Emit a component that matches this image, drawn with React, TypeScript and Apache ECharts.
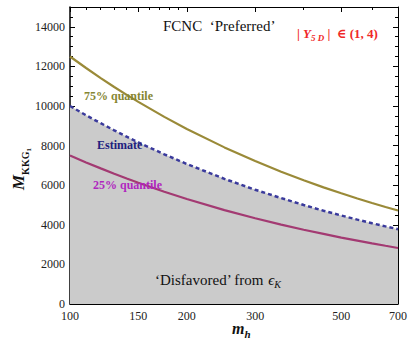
import React, { useEffect, useRef } from "react";
import * as echarts from "echarts";

const mh = [100, 110, 120, 130, 140, 150, 175, 200, 250, 300, 350, 400, 450, 500, 550, 600, 650, 700];
const q75 = [12500, 11920, 11410, 10960, 10560, 10210, 9450, 8840, 7910, 7220, 6680, 6250, 5890, 5590, 5330, 5100, 4900, 4720];
const estimate = [10000, 9530, 9130, 8770, 8450, 8160, 7560, 7070, 6320, 5770, 5350, 5000, 4710, 4470, 4260, 4080, 3920, 3780];
const q25 = [7500, 7150, 6850, 6580, 6340, 6120, 5670, 5300, 4740, 4330, 4010, 3750, 3540, 3350, 3200, 3060, 2940, 2830];

const xMajor = [100, 150, 200, 300, 500, 700];
const xMinor = [110, 120, 130, 140, 160, 170, 180, 190, 400, 600];
const yMajor = [0, 2000, 4000, 6000, 8000, 10000, 12000, 14000];
const yMinor = [500, 1000, 1500, 2500, 3000, 3500, 4500, 5000, 5500, 6500, 7000, 7500, 8500, 9000, 9500, 10500, 11000, 11500, 12500, 13000, 13500, 14500];

const SERIF = "'Liberation Serif', 'DejaVu Serif', serif";
const lg = (v: number) => Math.log10(v);
const X0 = lg(100);
const X1 = lg(700);

export default function App() {
  const ref = useRef<HTMLDivElement>(null);
  useEffect(() => {
    document.body.style.margin = "0";
    const chart = echarts.init(ref.current!, null, { renderer: "svg" });
    const pts = (ys: number[]) => mh.map((m, i) => [lg(m), ys[i]]);
    const xBase = (pos: string, ticks: number[], len: number, labels: boolean, line: boolean) => ({
      type: "value",
      min: X0,
      max: X1,
      position: pos,
      axisLine: { show: line, onZero: false, lineStyle: { color: "#000", width: 1 } },
      axisTick: { show: true, inside: true, length: len, customValues: ticks.map(lg), lineStyle: { color: "#000" } },
      axisLabel: labels
        ? {
            show: true,
            customValues: ticks.map(lg),
            formatter: (v: number) => String(Math.round(Math.pow(10, v))),
            fontFamily: SERIF,
            fontSize: 12,
            color: "#222",
            margin: 6,
          }
        : { show: false },
      splitLine: { show: false },
    });
    const yBase = (pos: string, ticks: number[], len: number, labels: boolean, line: boolean) => ({
      type: "value",
      min: 0,
      max: 15000,
      position: pos,
      axisLine: { show: line, onZero: false, lineStyle: { color: "#000", width: pos === "left" ? 1.5 : 1 } },
      axisTick: { show: true, inside: true, length: len, customValues: ticks, lineStyle: { color: "#000" } },
      axisLabel: labels
        ? {
            show: true,
            customValues: ticks,
            formatter: (v: number) => String(v),
            fontFamily: SERIF,
            fontSize: 12,
            color: "#222",
            margin: 5,
          }
        : { show: false },
      splitLine: { show: false },
    });
    chart.setOption({
      animation: false,
      backgroundColor: "#fff",
      grid: { left: 70, right: 9, top: 7, bottom: 40 },
      xAxis: [
        xBase("bottom", xMajor, 5, true, true),
        xBase("bottom", xMinor, 3, false, false),
        xBase("top", xMajor, 5, false, true),
        xBase("top", xMinor, 3, false, false),
      ],
      yAxis: [
        yBase("left", yMajor, 5, true, true),
        yBase("left", yMinor, 3, false, false),
        yBase("right", yMajor, 5, false, true),
        yBase("right", yMinor, 3, false, false),
      ],
      series: [
        {
          type: "line",
          name: "Estimate",
          data: pts(estimate),
          symbol: "none",
          z: 3,
          lineStyle: { color: "#3a3a9c", width: 2.5, type: [4, 3] },
          areaStyle: { color: "#cbcbcb", opacity: 1, origin: "start" },
        },
        {
          type: "line",
          name: "75% quantile",
          data: pts(q75),
          symbol: "none",
          z: 4,
          lineStyle: { color: "#9a8a38", width: 2.2 },
        },
        {
          type: "line",
          name: "25% quantile",
          data: pts(q25),
          symbol: "none",
          z: 4,
          lineStyle: { color: "#a33a72", width: 2.2 },
        },
      ],
      graphic: [
        {
          type: "text",
          left: 163,
          top: 18,
          z: 100,
          style: { text: "FCNC  \u2018Preferred\u2019", font: `15px ${SERIF}`, fill: "#111" },
        },
        {
          type: "text",
          left: 297,
          top: 27,
          z: 100,
          style: {
            text: "{a|| }{b|Y}{c|5 D}{a| |  \u2208 (1, 4)}",
            rich: {
              a: { fontFamily: SERIF, fontSize: 13, fontWeight: "bold", fill: "#f02828", verticalAlign: "bottom" },
              b: { fontFamily: SERIF, fontSize: 13, fontWeight: "bold", fontStyle: "italic", fill: "#f02828", verticalAlign: "bottom" },
              c: { fontFamily: SERIF, fontSize: 9, fontWeight: "bold", fontStyle: "italic", fill: "#f02828", verticalAlign: "bottom", padding: [0, 0, -2, 0] },
            },
          },
        },
        {
          type: "text",
          left: 84,
          top: 90,
          z: 100,
          style: { text: "75% quantile", font: `bold 12px ${SERIF}`, fill: "#868632" },
        },
        {
          type: "text",
          left: 97,
          top: 139,
          z: 100,
          style: { text: "Estimate", font: `bold 12px ${SERIF}`, fill: "#20207e" },
        },
        {
          type: "text",
          left: 93,
          top: 179,
          z: 100,
          style: { text: "25% quantile", font: `bold 12px ${SERIF}`, fill: "#b026bf" },
        },
        {
          type: "text",
          left: 155,
          top: 272,
          z: 100,
          style: {
            text: "{n|\u2018Disfavored\u2019 from }{e|\u03f5}{k|K}",
            rich: {
              n: { fontFamily: SERIF, fontSize: 15, fill: "#111", verticalAlign: "bottom" },
              e: { fontFamily: SERIF, fontSize: 15, fontStyle: "italic", fill: "#111", verticalAlign: "bottom" },
              k: { fontFamily: SERIF, fontSize: 10, fontStyle: "italic", fill: "#111", verticalAlign: "bottom", padding: [0, 0, -2, 0] },
            },
          },
        },
        {
          type: "text",
          left: 232,
          top: 320,
          z: 100,
          style: {
            text: "{m|m}{h|h}",
            rich: {
              m: { fontFamily: SERIF, fontSize: 16, fontWeight: "bold", fontStyle: "italic", fill: "#111", verticalAlign: "bottom" },
              h: { fontFamily: SERIF, fontSize: 11, fontWeight: "bold", fontStyle: "italic", fill: "#111", verticalAlign: "bottom", padding: [0, 0, -3, 0] },
            },
          },
        },
        {
          type: "text",
          x: 10,
          y: 190,
          z: 100,
          rotation: Math.PI / 2,
          style: {
            text: "{m|M}{s|KKG}{t|1}",
            rich: {
              m: { fontFamily: SERIF, fontSize: 17, fontWeight: "bold", fontStyle: "italic", fill: "#111", verticalAlign: "bottom" },
              s: { fontFamily: SERIF, fontSize: 10, fontWeight: "bold", fill: "#111", verticalAlign: "bottom", padding: [0, 0, -3, 0] },
              t: { fontFamily: SERIF, fontSize: 7, fontWeight: "bold", fill: "#111", verticalAlign: "bottom", padding: [0, 0, -5, 0] },
            },
          },
        },
      ],
    });
    return () => chart.dispose();
  }, []);
  return <div ref={ref} style={{ width: 410, height: 344 }} />;
}
